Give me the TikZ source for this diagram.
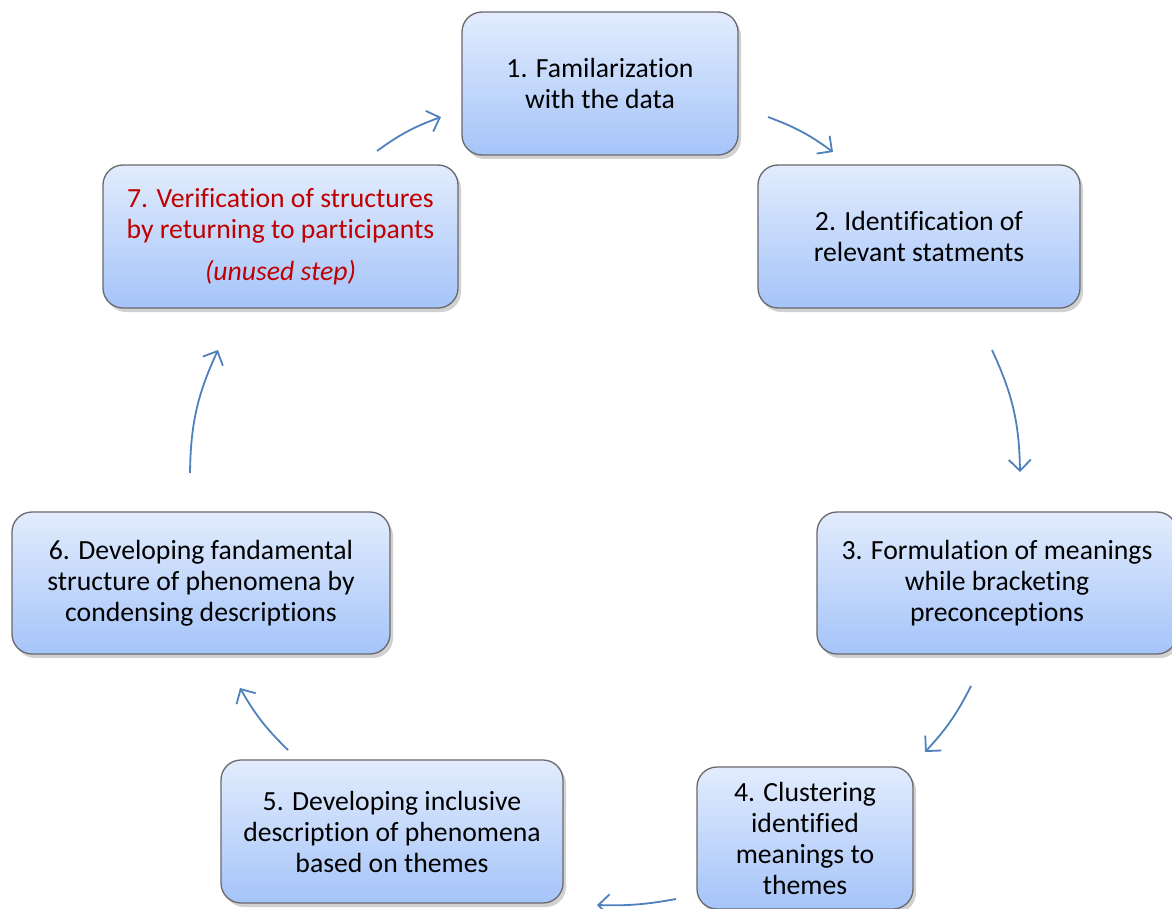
\documentclass[tikz,border=0pt]{standalone}
\usepackage{fontspec}
\setmainfont{Carlito}[Ligatures=NoCommon]
\usetikzlibrary{arrows.meta}
\definecolor{boxtop}{RGB}{226,236,253}
\definecolor{boxbot}{RGB}{165,196,249}
\definecolor{boxline}{RGB}{105,105,110}
\definecolor{arrowblue}{RGB}{79,129,189}
\definecolor{redtext}{RGB}{192,0,0}
\tikzset{
  stepbox/.style={rectangle, rounded corners=20pt, draw=boxline, line width=1.3pt,
    top color=boxtop, bottom color=boxbot, align=center, inner sep=0pt,
    font=\fontsize{27.7}{31}\selectfont, text=black},
  shadowbox/.style={rectangle, rounded corners=20pt, fill=black, opacity=0.18, draw=none, inner sep=0pt},
  flow/.style={draw=arrowblue, line width=1.8pt, -{Straight Barb[length=11pt,width=22pt,line width=1.8pt]}, bend left=#1},
  flow/.default=12
}
\newcommand{\stepnode}[6]{% name, cx, cy, w, h, text
  \node[shadowbox, minimum width=#4pt, minimum height=#5pt] at (#2+3,-#3-4) {};
  \node[stepbox, minimum width=#4pt, minimum height=#5pt] (#1) at (#2,-#3) {#6};
}
\begin{document}
\begin{tikzpicture}[x=1pt,y=1pt]
\clip (0,0) rectangle (1172,-909);
\fill[white] (0,0) rectangle (1172,-909);
\stepnode{s1}{600}{83.5}{276}{143}{1. Familarization\\with the data}
\stepnode{s2}{919}{236.5}{322}{143}{2. Identification of\\relevant statments}
\stepnode{s3}{997}{583}{360}{142}{3. Formulation of meanings\\while bracketing\\preconceptions}
\stepnode{s4}{805}{838}{216}{142}{4. Clustering\\identified\\meanings to\\themes}
\stepnode{s5}{392}{831.5}{342}{143}{5. Developing inclusive\\description of phenomena\\based on themes}
\stepnode{s6}{201}{583}{378}{142}{6. Developing fandamental\\structure of phenomena by\\condensing descriptions}
\stepnode{s7}{280.5}{236.5}{355}{143}{\textcolor{redtext}{7. Verification of structures}\\\textcolor{redtext}{by returning to participants}\\[11pt]\textcolor{redtext}{\itshape (unused step)}}

\coordinate (a1s) at (768,-117); \coordinate (a1e) at (833,-152);
\coordinate (a2s) at (992,-350); \coordinate (a2e) at (1020,-472);
\coordinate (a3s) at (971,-686); \coordinate (a3e) at (925,-752);
\coordinate (a4s) at (676,-899); \coordinate (a4e) at (597,-905);
\coordinate (a5s) at (288,-750); \coordinate (a5e) at (240,-688);
\coordinate (a6s) at (190,-473); \coordinate (a6e) at (218,-350);
\coordinate (a7s) at (377,-151); \coordinate (a7e) at (441,-117);

\draw[flow=8] (a1s) to (a1e);
\draw[flow=12] (a2s) to (a2e);
\draw[flow=8] (a3s) to (a3e);
\draw[flow=6] (a4s) to (a4e);
\draw[flow=8] (a5s) to (a5e);
\draw[flow=12] (a6s) to (a6e);
\draw[flow=8] (a7s) to (a7e);
\end{tikzpicture}
\end{document}
